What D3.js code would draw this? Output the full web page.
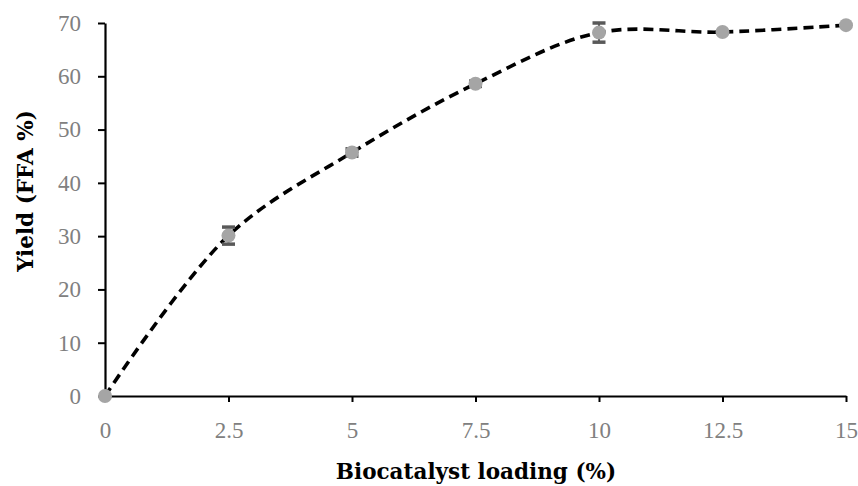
<!DOCTYPE html>
<html><head><meta charset="utf-8">
<script src="https://cdn.jsdelivr.net/npm/d3@7"></script>
<style>body{margin:0;background:#fff}svg{display:block}</style>
</head><body>
<svg id="c" width="858" height="486"></svg>
<script>
const loading = [0, 2.5, 5, 7.5, 10, 12.5, 15];
const yieldFFA = [0, 30.1, 45.7, 58.6, 68.2, 68.3, 69.6];
const errors = [0, 1.6, 0.7, 0.5, 1.8, 0, 0];
const xTicks = [0, 2.5, 5, 7.5, 10, 12.5, 15];
const yTicks = [0, 10, 20, 30, 40, 50, 60, 70];
const xTitle = "Biocatalyst loading (%)";
const yTitle = "Yield (FFA %)";

const svg = d3.select("#c");
const tickFont = "'Liberation Serif','DejaVu Serif',serif";
const titleFont = "'DejaVu Serif','Liberation Serif',serif";
const x = d3.scaleLinear().domain([0, 15]).range([105, 846]);
const y = d3.scaleLinear().domain([0, 70]).range([396, 23]);

const xAxis = svg.append("g").attr("transform", "translate(0,396)")
  .call(d3.axisBottom(x).tickValues(xTicks).tickSize(6).tickSizeOuter(0)
    .tickFormat(d => String(d)));
xAxis.selectAll(".tick text").attr("y", 42).attr("dy", null);
const yAxis = svg.append("g").attr("transform", "translate(105,0)")
  .call(d3.axisLeft(y).tickValues(yTicks).tickSize(7).tickSizeOuter(0).tickPadding(17));
[xAxis, yAxis].forEach(g => {
  g.select(".domain").attr("stroke", "#000").attr("stroke-width", 2.2);
  g.selectAll(".tick line").attr("stroke", "#000").attr("stroke-width", 2);
  g.selectAll(".tick text").attr("fill", "#808080").style("font-family", tickFont).style("font-size", "23px");
});

const data = loading.map((v, i) => ({x: v, y: yieldFFA[i], e: errors[i]}));

svg.append("path").datum(data)
  .attr("fill", "none").attr("stroke", "#000").attr("stroke-width", 3.6)
  .attr("stroke-dasharray", "10,6")
  .attr("d", d3.line().x(d => x(d.x)).y(d => y(d.y)).curve(d3.curveCatmullRom.alpha(0.5)));

const eb = svg.append("g");
data.filter(d => d.e > 0).forEach(d => {
  eb.append("line").attr("x1", x(d.x)).attr("x2", x(d.x)).attr("y1", y(d.y - d.e)).attr("y2", y(d.y + d.e))
    .attr("stroke", "#595959").attr("stroke-width", 2);
  [d.y - d.e, d.y + d.e].forEach(v => {
    eb.append("line").attr("x1", x(d.x) - 6.5).attr("x2", x(d.x) + 6.5).attr("y1", y(v)).attr("y2", y(v))
      .attr("stroke", "#595959").attr("stroke-width", 3.5);
  });
});

svg.append("g").selectAll("circle").data(data).join("circle")
  .attr("cx", d => x(d.x)).attr("cy", d => y(d.y)).attr("r", 7).attr("fill", "#a5a5a5");

svg.append("text").attr("x", 476).attr("y", 479).attr("text-anchor", "middle")
  .style("font-family", titleFont).style("font-size", "21.5px").style("font-weight", "bold").text(xTitle);
svg.append("text").attr("transform", "translate(33,191) rotate(-90)").attr("text-anchor", "middle")
  .style("font-family", titleFont).style("font-size", "21.5px").style("font-weight", "bold").text(yTitle);
</script>
</body></html>
